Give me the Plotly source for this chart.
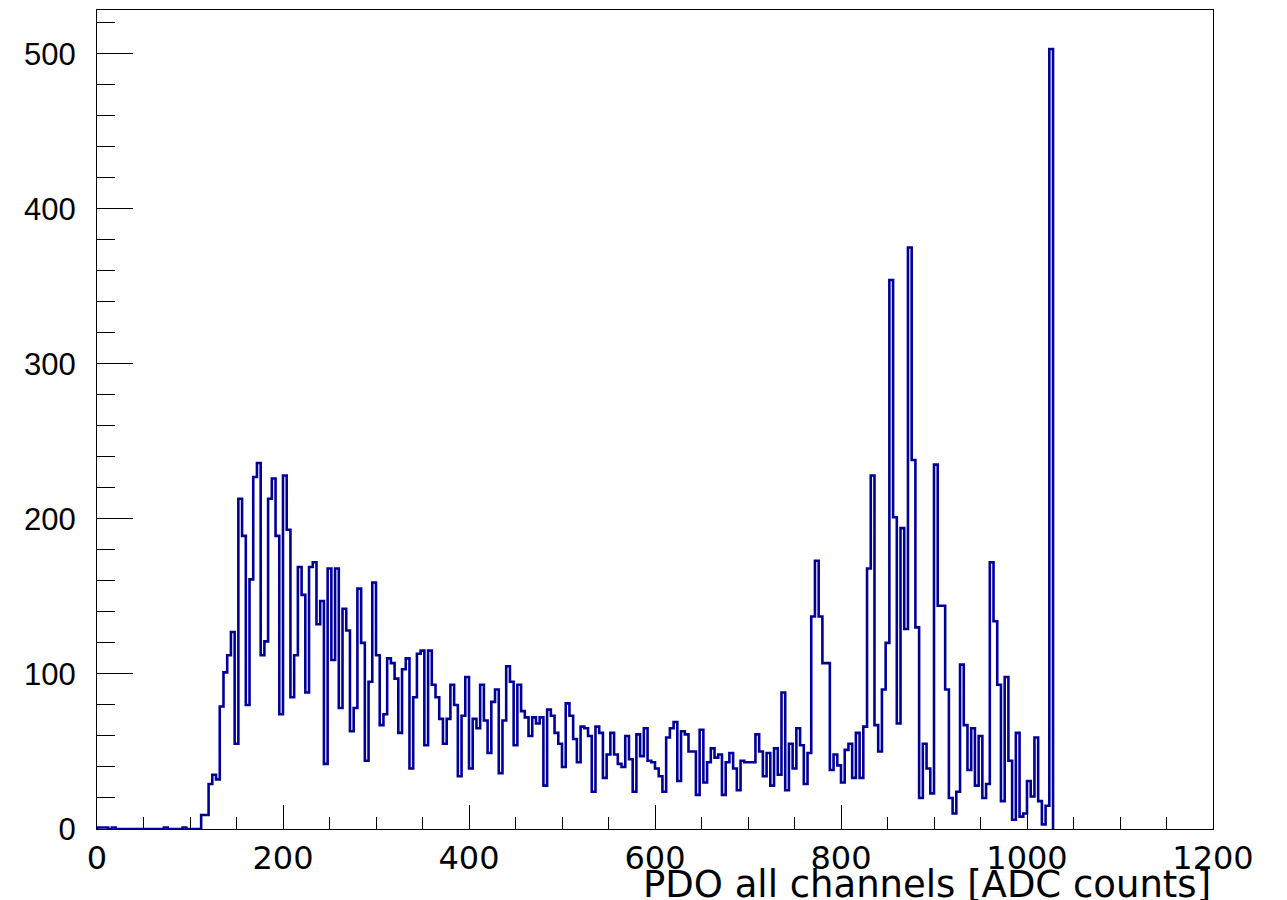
import numpy as np
import plotly.graph_objects as go

# PDO histogram: 4 ADC-count wide bins starting at 0
bin_width = 4
x_min = 0

counts = [
    1, 1, 1, 0, 1, 0, 0, 0, 0, 0,            # 0 - 40
    0, 0, 0, 0, 0, 0, 0, 0, 1, 0,            # 40 - 80
    0, 0, 0, 1, 0, 0, 0, 0, 9, 9,            # 80 - 120
    29, 35, 32, 79, 101, 112, 127, 55, 213, 189,
    80, 161, 227, 236, 112, 121, 213, 226, 189, 74,
    228, 193, 85, 112, 169, 151, 88, 169, 172, 132,
    147, 42, 168, 109, 168, 78, 142, 128, 63, 78,
    155, 120, 44, 95, 159, 112, 67, 74, 110, 107,
    97, 62, 103, 110, 39, 85, 113, 115, 54, 115,
    93, 85, 71, 55, 71, 93, 80, 34, 73, 98,
    39, 71, 65, 93, 70, 49, 82, 90, 36, 70,
    105, 95, 54, 93, 76, 72, 60, 72, 68, 72,
    28, 77, 73, 62, 55, 40, 81, 73, 58, 43,
    66, 65, 60, 24, 66, 62, 33, 48, 62, 48,
    42, 40, 60, 45, 24, 61, 47, 65, 44, 43,
    39, 34, 24, 59, 65, 69, 31, 63, 61, 50,
    50, 22, 64, 30, 43, 52, 46, 48, 22, 43,
    49, 39, 25, 44, 43, 43, 43, 61, 50, 34,
    49, 28, 52, 35, 88, 25, 55, 39, 65, 54,
    29, 49, 137, 173, 137, 107, 107, 38, 48, 41,
    30, 51, 55, 33, 62, 33, 66, 168, 228, 67,
    50, 90, 120, 354, 201, 68, 194, 129, 375, 238,
    130, 20, 55, 39, 23, 235, 144, 144, 90, 20,
    10, 24, 106, 67, 38, 65, 28, 60, 20, 29,
    172, 134, 93, 18, 98, 44, 6, 62, 8, 10,
    31, 21, 59, 18, 3, 15, 503,
]

x_tick_labels = ["0", "200", "400", "600", "800", "1000", "1200"]
y_tick_labels = ["0", "100", "200", "300", "400", "500"]
x_title = "PDO all channels [ADC counts]"

line_color = "#000099"
y_font = "Liberation Sans, Arial, Helvetica, sans-serif"
x_font = "DejaVu Sans, Verdana, sans-serif"

counts_arr = np.asarray(counts, dtype=float)
edges = x_min + bin_width * np.arange(len(counts_arr) + 1)

# step outline: start on the baseline, climb into the first bin, end back on the baseline
step_x = np.concatenate([[edges[0]], edges[:-1], [edges[-1]]])
step_y = np.concatenate([[0.0], counts_arr, [0.0]])

fig = go.Figure()
fig.add_trace(go.Scatter(
    x=step_x, y=step_y,
    mode="lines",
    line=dict(color=line_color, width=2.6, shape="hv"),
    hoverinfo="skip",
    showlegend=False,
))

y_max = 1.05 * counts_arr.max()

fig.update_layout(
    width=1287, height=900,
    margin=dict(l=97, r=74, t=10, b=71),
    paper_bgcolor="white",
    plot_bgcolor="white",
    font=dict(family=y_font, color="black"),
    xaxis=dict(
        range=[0, 1200],
        tickmode="array",
        tickvals=[int(v) for v in x_tick_labels],
        ticktext=x_tick_labels,
        ticks="inside", ticklen=24, tickwidth=1, tickcolor="black",
        minor=dict(ticks="inside", ticklen=12, dtick=50, tickwidth=1, tickcolor="black"),
        showline=True, linecolor="black", linewidth=1, mirror=True,
        showgrid=False, zeroline=False,
        tickfont=dict(size=32, family=x_font),
        ticklabelstandoff=1,
    ),
    yaxis=dict(
        range=[0, y_max],
        tickmode="array",
        tickvals=[int(v) for v in y_tick_labels],
        ticktext=y_tick_labels,
        ticks="inside", ticklen=36, tickwidth=1, tickcolor="black",
        minor=dict(ticks="inside", ticklen=18, dtick=20, tickwidth=1, tickcolor="black"),
        showline=True, linecolor="black", linewidth=1, mirror=True,
        showgrid=False, zeroline=False,
        tickfont=dict(size=31, family=y_font),
        ticklabelstandoff=14,
    ),
    annotations=[dict(
        text=x_title,
        xref="paper", yref="paper",
        x=1.0, y=0.0,
        xanchor="right", yanchor="middle",
        yshift=-55,
        showarrow=False,
        font=dict(size=37, family=x_font, color="black"),
    )],
)

fig.write_html("out.html")
